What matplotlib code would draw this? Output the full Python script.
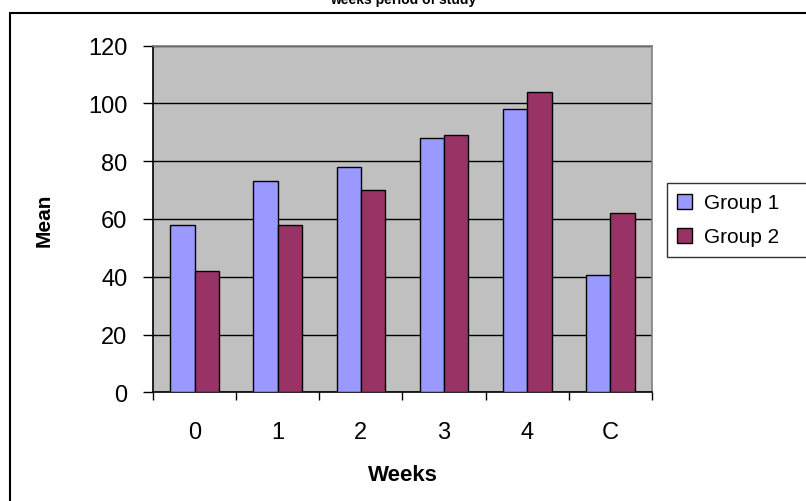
import matplotlib
matplotlib.use("Agg")
import matplotlib.pyplot as plt
import numpy as np
from matplotlib.patches import Rectangle

# data
weeks = ["0", "1", "2", "3", "4", "C"]
group1 = [58, 73, 78, 88, 98, 40.5]
group2 = [42, 58, 70, 89, 104, 62]

plt.rcParams['font.family'] = ['Liberation Sans', 'DejaVu Sans']

fig = plt.figure(figsize=(8.06, 5.02), dpi=100)
ax = fig.add_axes([153/806, 1 - 393.3/502, 499/806, 346.6/502])
ax.set_facecolor('#C0C0C0')

x = np.arange(len(weeks))
w = 0.292
ax.bar(x - w/2, group1, w, color='#9999FF', edgecolor='black', linewidth=1, label='Group 1', zorder=3)
ax.bar(x + w/2, group2, w, color='#993366', edgecolor='black', linewidth=1, label='Group 2', zorder=3)

ax.set_xlim(-0.5, len(weeks) - 0.5)
ax.set_ylim(0, 120)
ax.set_yticks(range(0, 121, 20))
ax.yaxis.grid(True, color='black', linewidth=1)
ax.set_axisbelow(True)

# ticks between categories, labels at centres
ax.set_xticks(np.arange(-0.5, len(weeks), 1))
ax.set_xticklabels([])
ax.set_xticks(x, minor=True)
ax.set_xticklabels(weeks, minor=True)
ax.tick_params(axis='x', which='major', length=6, width=1, direction='out')
ax.tick_params(axis='x', which='minor', length=0, pad=21, labelsize=17)
ax.tick_params(axis='y', length=7, width=1, direction='out', pad=11.5, labelsize=17)

for s in ['left', 'bottom']:
    ax.spines[s].set_color('black')
    ax.spines[s].set_linewidth(1.2)
for s in ['top', 'right']:
    ax.spines[s].set_color('#808080')
    ax.spines[s].set_linewidth(1.2)

ax.set_xlabel('Weeks', fontsize=16, fontweight='bold', va='center')
ax.xaxis.set_label_coords(0.5, -0.2386)
ax.set_ylabel('Mean', fontsize=15, fontweight='bold', va='center')
ax.yaxis.set_label_coords(-0.218, 0.5)

fig.text(403/806, 1 - 4/502, 'weeks period of study', ha='center', va='baseline',
         fontsize=10, fontweight='bold')

# outer chart border (only left and top visible in the crop)
fig.patches.append(Rectangle((10/806, -0.1), 1.2, 1 - 14/502 + 0.1, transform=fig.transFigure,
                             fill=False, edgecolor='black', linewidth=1.5))

leg = fig.legend(loc='upper left', bbox_to_anchor=(667/806, 1 - 253/502, 0.3, 69/502),
                 mode='expand', fontsize=15, frameon=True, fancybox=False, edgecolor='black',
                 handlelength=0.72, handleheight=0.72, handletextpad=0.58, borderpad=0.5,
                 labelspacing=0.72, borderaxespad=0)
leg.get_frame().set_linewidth(1)

fig.savefig('out.png', dpi=100)
